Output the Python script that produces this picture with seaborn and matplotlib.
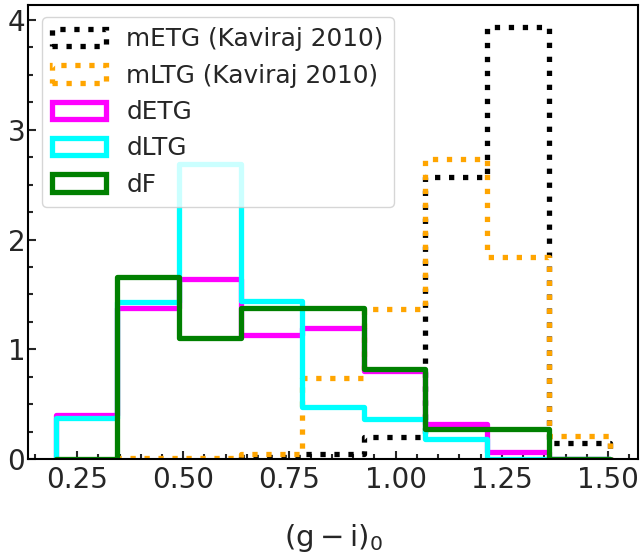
import numpy as np
import pandas as pd
import matplotlib
matplotlib.use("Agg")
import matplotlib.pyplot as plt
from matplotlib.patches import Patch
from matplotlib.ticker import MultipleLocator
import seaborn as sns

# bin edges of the (g-i)_0 histograms
bin_edges = [0.2, 0.345, 0.49, 0.635, 0.78, 0.925, 1.07, 1.215, 1.36, 1.505]

# heights per bin (None = bin not drawn for that sample)
metg = [None, None, None, 0.02, 0.05, 0.20, 2.57, 3.94, 0.15]
mltg = [None, 0.01, 0.01, 0.05, 0.74, 1.37, 2.73, 1.84, 0.21]
detg = [0.40, 1.38, 1.64, 1.13, 1.19, 0.80, 0.32, 0.06, 0.0]
dltg = [0.37, 1.43, 2.69, 1.44, 0.47, 0.36, 0.18, 0.0, 0.0]
df_ = [0.0, 1.66, 1.10, 1.38, 1.38, 0.82, 0.27, 0.27, 0.0]

labels = ["mETG (Kaviraj 2010)", "mLTG (Kaviraj 2010)", "dETG", "dLTG", "dF"]
series = [metg, mltg, detg, dltg, df_]
colors = ["black", "orange", "magenta", "cyan", "green"]
styles = [":", ":", "-", "-", "-"]

sns.set_style("ticks", {"xtick.direction": "in", "ytick.direction": "in"})
plt.rcParams["font.family"] = ["DejaVu Sans"]
plt.rcParams["mathtext.default"] = "regular"

fig = plt.figure(figsize=(6.41, 5.6), dpi=100)
ax = fig.add_axes([28 / 641, 1 - 459 / 560, 610 / 641, 454 / 560])

lw = 3.8
eps = 1e-4
for vals, c, ls in zip(series, colors, styles):
    idx = [i for i, v in enumerate(vals) if v is not None]
    e = np.array(bin_edges[idx[0]:idx[-1] + 2])
    h = [vals[i] for i in idx]
    d = pd.DataFrame({"x": (e[:-1] + e[1:]) / 2, "w": h})
    # tiny empty bins on both sides so the step drops to zero at the ends
    bins = [e[0] - eps] + list(e) + [e[-1] + eps]
    sns.histplot(data=d, x="x", weights="w", bins=bins, element="step",
                 fill=False, color=c, linestyle=ls, linewidth=lw, ax=ax)

ax.set_ylim(bottom=0)
ax.xaxis.set_major_locator(MultipleLocator(0.25))
ax.xaxis.set_minor_locator(MultipleLocator(0.05))
ax.yaxis.set_major_locator(MultipleLocator(1))
ax.yaxis.set_minor_locator(MultipleLocator(0.25))
ax.tick_params(which="both", direction="in", width=1.5, labelsize=20)
ax.tick_params(which="major", length=6)
ax.tick_params(which="minor", length=3.5)
ax.tick_params(axis="y", pad=2)
ax.tick_params(axis="x", pad=5)
for s in ax.spines.values():
    s.set_linewidth(1.5)
    s.set_color("black")

ax.set_ylabel("")
ax.set_xlabel(r"$(g-i)_0$", fontsize=21, labelpad=20)

handles = [Patch(facecolor="none", edgecolor=c, linewidth=lw, linestyle=ls)
           for c, ls in zip(colors, styles)]
ax.legend(handles, labels, loc="upper left", fontsize=17.8, handlelength=2.2,
          bbox_to_anchor=(0.003, 1.0))

fig.savefig("out.png", dpi=100)
